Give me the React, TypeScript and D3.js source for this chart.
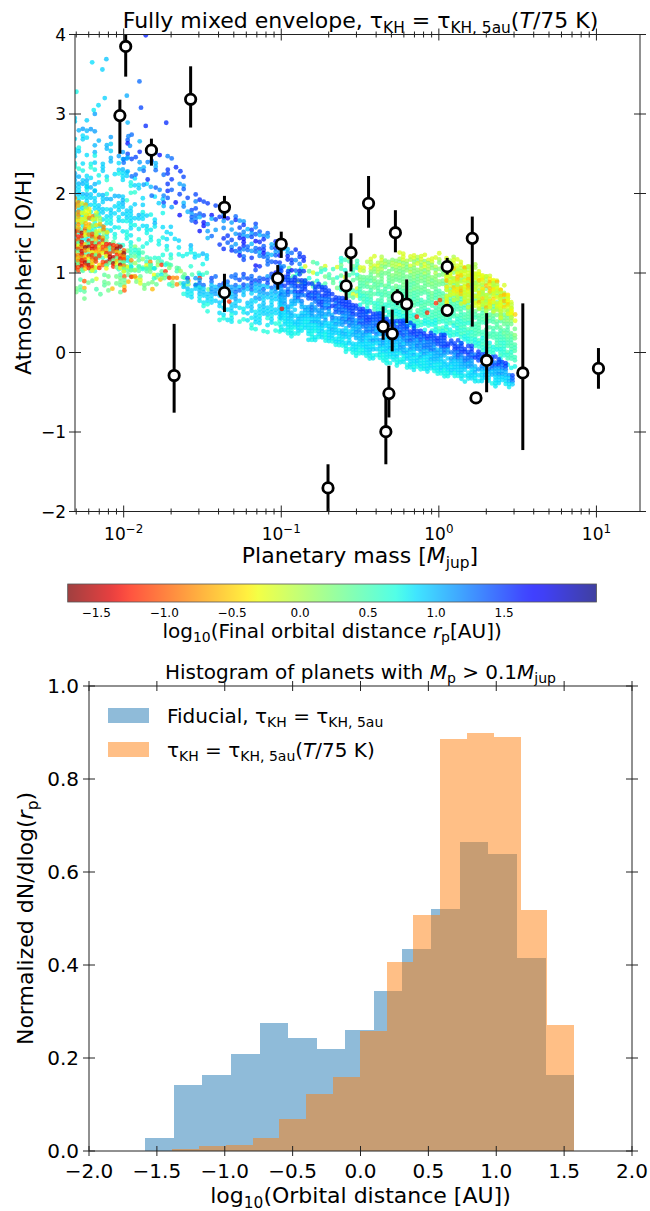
import React from 'react';
import * as d3 from 'd3';

// ---------------- Observed planets (top panel) ----------------
const obsMass = [0.0103, 0.00946, 0.015, 0.0266, 0.0436, 0.1, 0.277, 0.358, 0.53, 1.13, 1.63, 0.0209, 0.0436, 0.095, 0.258, 0.545, 0.625, 0.443, 0.506, 1.13, 2.01, 3.41, 10.3, 1.72, 0.482, 0.461, 0.198];
const obsOH = [3.85, 2.98, 2.545, 3.185, 1.827, 1.365, 1.256, 1.876, 1.507, 1.08, 1.436, -0.289, 0.753, 0.934, 0.838, 0.696, 0.61, 0.327, 0.236, 0.53, -0.1, -0.257, -0.2, -0.571, -0.517, -0.996, -1.703];
const obsErrLow = [0.38, 0.48, 0.195, 0.355, 0.137, 0.175, 0.236, 0.306, 0.247, 0.1, 1.11, 0.468, 0.243, 0.144, 0.178, 0.1, 0.24, 0.167, 0.222, 0, 0.4, 0.97, 0.256, 0, 0.3, 0.41, 0.3];
const obsErrHigh = [0.15, 0.2, 0.145, 0.415, 0.143, 0.155, 0.244, 0.344, 0.283, 0.11, 0.274, 0.649, 0.237, 0.166, 0.182, 0.1, 0.31, 0.253, 0.304, 0, 0.595, 0.875, 0.256, 0, 0.35, 0.49, 0.297];

// ---------------- Simulated population cloud, read as bands ----------------
// station: [log10 Mass, lower O/H, upper O/H, local dot density]; colours: log10 r_p values seen in the band
const upperFanStations = [[-2.31, 2.0, 3.3, 0.35], [-2.2, 1.95, 3.1, 0.3], [-2.05, 1.85, 2.8, 0.25], [-1.9, 1.75, 2.45, 0.2], [-1.75, 1.6, 2.1, 0.2]];
const upperFanColors = [0.65, 0.75, 0.85, 0.9, 1.0, 1.1];
const lowerFanStations = [[-2.31, 0.95, 2.3, 0.8], [-2.2, 0.98, 2.2, 0.6], [-2.05, 1.0, 2.05, 0.45], [-1.9, 1.0, 1.9, 0.35], [-1.75, 0.98, 1.75, 0.3], [-1.6, 0.92, 1.5, 0.3], [-1.45, 0.88, 1.25, 0.3]];
const lowerFanColors = [0.45, 0.55, 0.65, 0.7, 0.75, 0.8, 0.85, 0.9, 1.0];
const redCoreStations = [[-2.31, 0.98, 1.6, 0.9], [-2.2, 1.0, 1.55, 0.85], [-2.1, 1.02, 1.45, 0.8], [-1.98, 1.0, 1.3, 0.7]];
const redCoreColors = [-1.3, -1.0, -0.6, 0.3, -1.45, -0.8, -1.2, -0.3, 0.4, -1.1, -0.5, -1.55];
const yellowTopStations = [[-2.31, 1.55, 1.98, 0.8], [-2.2, 1.5, 1.82, 0.7], [-2.1, 1.42, 1.6, 0.5]];
const yellowTopColors = [-0.4, -0.2, -0.6, 0.1, -0.3, -0.8];
const mixClusterStations = [[-2.0, 0.95, 1.4, 0.6], [-1.85, 0.9, 1.3, 0.5], [-1.7, 0.85, 1.18, 0.45], [-1.55, 0.82, 1.05, 0.4], [-1.45, 0.8, 0.95, 0.35]];
const mixClusterColors = [0.3, 0.6, -0.3, 0.7, 0.2, -0.8, 0.5, 0.1, -1.2, 0.4, 0.8, 0.6];
const greenFringeStations = [[-2.3, 0.6, 0.98, 0.3], [-2.1, 0.72, 1.0, 0.4], [-1.85, 0.78, 1.0, 0.5], [-1.6, 0.78, 0.95, 0.5], [-1.4, 0.75, 0.88, 0.4], [-1.3, 0.72, 0.85, 0.3]];
const greenFringeColors = [0.3, 0.35, 0.25, -0.6, 0.4, -1.0, 0.3, -0.2, 0.5];
const blueStreamStations = [[-2.0, 2.2, 3.0, 0.2], [-1.85, 2.0, 2.75, 0.25], [-1.65, 1.65, 2.35, 0.3], [-1.45, 1.35, 2.0, 0.4], [-1.25, 1.1, 1.75, 0.5], [-1.05, 0.95, 1.5, 0.6], [-0.85, 0.9, 1.3, 0.6]];
const blueStreamColors = [1.2, 1.45, 1.35, 1.55, 1.3, 1.5, 1.1, 1.65, 1.0];
const mainLeftStations = [[-1.62, 0.7, 1.0, 0.4], [-1.45, 0.45, 1.0, 0.5], [-1.26, 0.3, 1.0, 0.6], [-1.0, 0.2, 1.1, 0.75]];
const mainLeftColors = [0.7, 0.8, 0.85, 0.9, 0.95, 1.1, 1.3, 1.45];
const mainRightStations = [[-1.0, 0.2, 1.1, 0.75], [-0.75, 0.12, 0.87, 0.85], [-0.5, -0.08, 0.6, 0.9], [-0.25, -0.18, 0.42, 0.9], [0.0, -0.3, 0.25, 0.9], [0.25, -0.4, 0.05, 0.9], [0.42, -0.44, -0.08, 0.9], [0.47, -0.44, -0.3, 0.8]];
const mainRightColors = [0.75, 0.8, 0.85, 0.9, 1.0, 1.1, 1.25, 1.4, 1.5, 1.45];
const greenSparseStations = [[-0.95, 0.85, 1.15, 0.35], [-0.7, 0.78, 1.2, 0.45], [-0.5, 0.6, 1.22, 0.55]];
const greenSparseColors = [0.55, 0.3, 0.65, 0.4, -0.2, 0.7, 0.5];
const greenRegionStations = [[-0.5, 0.55, 1.15, 0.7], [-0.35, 0.4, 1.25, 0.8], [-0.2, 0.3, 1.29, 0.85], [0.0, 0.2, 1.25, 0.85], [0.2, 0.05, 1.15, 0.85], [0.35, -0.1, 0.95, 0.85], [0.45, -0.2, 0.7, 0.85], [0.5, -0.2, 0.35, 0.6]];
const greenRegionColors = [0.75, 0.65, 0.55, 0.5, 0.45, 0.35, 0.3, 0.2, 0.0, -0.2];
const yellowPatchStations = [[0.05, 0.62, 1.1, 0.75], [0.2, 0.55, 1.08, 0.8], [0.33, 0.45, 1.0, 0.8], [0.43, 0.4, 0.82, 0.75], [0.49, 0.35, 0.55, 0.55]];
const yellowPatchColors = [-0.2, -0.3, -0.5, -0.6, -0.25, -0.1, -0.4, 0.0, -0.15];

// isolated simulated points [log10 M, O/H, log10 r_p]
const strayPoints = [
  [-2.2, 3.65, 0.85], [-2.11, 3.69, 0.95], [-2.135, 3.56, 0.9], [-2.3, 3.28, 0.75], [-2.12, 3.2, 0.9], [-2.16, 3.11, 0.85], [-2.19, 3.05, 0.8],
  [-1.9, 3.41, 1.3], [-1.98, 3.23, 1.05], [-1.89, 3.08, 1.45], [-1.86, 2.85, 1.55], [-1.73, 2.89, 1.55], [-1.668, 2.33, 1.55], [-1.72, 2.3, 1.5],
  [-1.86, 3.99, 1.6], [-1.97, 2.72, 1.2], [-1.96, 2.6, 1.15], [-1.62, 2.21, 1.45], [-1.64, 2.28, 1.5],
  [-1.33, 0.64, -1.2], [-0.996, 0.55, -1.3], [-0.14, 0.45, -1.25], [-0.074, 0.5, -1.2], [-0.018, 0.62, -1.2], [0.007, 0.66, -1.1],
];

// ---------------- Histogram (bottom panel) ----------------
const fiducialEdges = [-1.587, -1.376, -1.166, -0.955, -0.744, -0.534, -0.323, -0.112, 0.098, 0.309, 0.52, 0.73, 0.941, 1.152, 1.363, 1.574];
const fiducialValues = [0.027, 0.141, 0.163, 0.208, 0.275, 0.244, 0.22, 0.261, 0.345, 0.434, 0.52, 0.664, 0.639, 0.414, 0.163];
const tempEdges = [-1.388, -1.19, -0.993, -0.795, -0.598, -0.4, -0.203, -0.005, 0.192, 0.39, 0.587, 0.785, 0.982, 1.18, 1.377, 1.574];
const tempValues = [0.004, 0.01, 0.013, 0.029, 0.068, 0.122, 0.159, 0.259, 0.407, 0.508, 0.886, 0.898, 0.89, 0.518, 0.271];

// ---------------- ticks ----------------
const xMajorTicks = [0.01, 0.1, 1, 10];
const xMajorExp = ['−2', '−1', '0', '1'];
const xMinorTicks = [0.005, 0.006, 0.007, 0.008, 0.009, 0.02, 0.03, 0.04, 0.05, 0.06, 0.07, 0.08, 0.09, 0.2, 0.3, 0.4, 0.5, 0.6, 0.7, 0.8, 0.9, 2, 3, 4, 5, 6, 7, 8, 9];
const yTopTicks = [-2, -1, 0, 1, 2, 3, 4];
const cbTicks = [-1.5, -1.0, -0.5, 0.0, 0.5, 1.0, 1.5];
const histXTicks = [-2, -1.5, -1, -0.5, 0, 0.5, 1, 1.5, 2];
const histYTicks = [0, 0.2, 0.4, 0.6, 0.8, 1.0];

const FONT = "'DejaVu Sans', sans-serif";

// layout
const T = { left: 75, right: 640, top: 34.5, bottom: 511.5 };
const C = { left: 67.7, right: 596.5, top: 584, bottom: 602 };
const B = { left: 89, right: 632, top: 686, bottom: 1151 };

const xTop = d3.scaleLog().domain([0.00491, 18.9]).range([T.left, T.right]);
const yTop = d3.scaleLinear().domain([-2, 4]).range([T.bottom, T.top]);
const cbX = d3.scaleLinear().domain([-1.71, 2.18]).range([C.left, C.right]);
const xH = d3.scaleLinear().domain([-2, 2]).range([B.left, B.right]);
const yH = d3.scaleLinear().domain([0, 1]).range([B.bottom, B.top]);

// matplotlib jet
const jetR = d3.scaleLinear().domain([0, 0.35, 0.66, 0.89, 1]).range([0, 0, 1, 1, 0.5]).clamp(true);
const jetG = d3.scaleLinear().domain([0, 0.125, 0.375, 0.64, 0.91, 1]).range([0, 0, 1, 1, 0, 0]).clamp(true);
const jetB = d3.scaleLinear().domain([0, 0.11, 0.34, 0.65, 1]).range([0.5, 1, 1, 0, 0]).clamp(true);
const cNorm = d3.scaleLinear().domain([-1.71, 2.18]).range([1, 0]).clamp(true); // jet_r
function colorOf(c: number) {
  const t = cNorm(c);
  return d3.rgb(jetR(t) * 255, jetG(t) * 255, jetB(t) * 255).formatHex();
}

// deterministic dither index (picks which listed colour / whether a lattice site is shown)
function hash(a: number, b: number, s: number) {
  let h = Math.imul(a + 1, 0x9e3779b1) ^ Math.imul(b + 7 + s * 131, 0x85ebca6b);
  h ^= h >>> 13;
  h = Math.imul(h, 0xc2b2ae35);
  h ^= h >>> 16;
  return h >>> 0;
}

type P = { m: number; oh: number; c: number };
function bandPoints(st: number[][], pal: number[], spacing: number, mode: 'grad' | 'mix', seed: number, soft: number): P[] {
  const lm = st.map((s) => s[0]);
  const botS = d3.scaleLinear().domain(lm).range(st.map((s) => s[1]));
  const topS = d3.scaleLinear().domain(lm).range(st.map((s) => s[2]));
  const denS = d3.scaleLinear().domain(lm).range(st.map((s) => s[3]));
  const x0 = xTop(Math.pow(10, lm[0]));
  const x1 = xTop(Math.pow(10, lm[lm.length - 1]));
  const pts: P[] = [];
  const dyStep = spacing * 0.87;
  let col = 0;
  for (let px = x0; px <= x1 + 0.01; px += spacing, col++) {
    const m = xTop.invert(px);
    const logm = Math.log10(m);
    const bot = botS(logm), top = topS(logm), den = denS(logm);
    const pyTop = yTop(top), pyBot = yTop(bot);
    let row = 0;
    for (let py = pyTop + (col % 2 ? dyStep / 2 : 0); py <= pyBot; py += dyStep, row++) {
      const oh = yTop.invert(py);
      const frac = (oh - bot) / (top - bot || 1);
      const h = hash(col, row, seed);
      const edge = Math.min(py - pyTop, pyBot - py);
      const keep = den * Math.min(1, (edge + 1) / soft);
      if ((hash(row, col, seed + 50) % 1000) / 1000 >= keep) continue;
      let idx: number;
      if (mode === 'grad') idx = Math.floor(frac * pal.length) + ((h % 3) - 1);
      else idx = h % pal.length;
      idx = Math.max(0, Math.min(pal.length - 1, idx));
      pts.push({ m, oh, c: pal[idx] });
    }
  }
  return pts;
}

const cloud: P[] = [
  ...bandPoints(upperFanStations, upperFanColors, 4, 'grad', 1, 25),
  ...bandPoints(lowerFanStations, lowerFanColors, 4, 'grad', 2, 10),
  ...bandPoints(greenFringeStations, greenFringeColors, 4, 'mix', 3, 6),
  ...bandPoints(mixClusterStations, mixClusterColors, 3.8, 'mix', 10, 8),
  ...bandPoints(redCoreStations, redCoreColors, 3.5, 'mix', 4, 6),
  ...bandPoints(yellowTopStations, yellowTopColors, 3.6, 'mix', 11, 6),
  ...bandPoints(greenSparseStations, greenSparseColors, 4, 'mix', 5, 8),
  ...bandPoints(greenRegionStations, greenRegionColors, 3.6, 'grad', 6, 8),
  ...bandPoints(mainLeftStations, mainLeftColors, 4, 'grad', 12, 8),
  ...bandPoints(mainRightStations, mainRightColors, 3.4, 'grad', 7, 6),
  ...bandPoints(yellowPatchStations, yellowPatchColors, 3.6, 'mix', 8, 8),
  ...bandPoints(blueStreamStations, blueStreamColors, 4, 'mix', 9, 14),
  ...strayPoints.map((s) => ({ m: Math.pow(10, s[0]), oh: s[1], c: s[2] })),
];

type Seg = { t: string; k?: 'sub' | 'sup'; it?: boolean };
function MathText(props: { x: number; y: number; fs: number; segs: Seg[]; anchor?: string; rotate?: number; fill?: string }) {
  const { x, y, fs, segs, anchor = 'middle', rotate = 0, fill = '#000' } = props;
  let cur = 0;
  return (
    <text
      transform={`translate(${x},${y}) rotate(${rotate})`}
      fontFamily={FONT}
      fontSize={fs}
      textAnchor={anchor}
      fill={fill}
      style={{ whiteSpace: 'pre' }}
    >
      {segs.map((s, i) => {
        const target = s.k === 'sub' ? fs * 0.22 : s.k === 'sup' ? -fs * 0.42 : 0;
        const dy = target - cur;
        cur = target;
        return (
          <tspan key={i} dy={dy} fontSize={s.k ? fs * 0.7 : fs} fontStyle={s.it ? 'italic' : 'normal'}>
            {s.t}
          </tspan>
        );
      })}
    </text>
  );
}

const tauKH: Seg[] = [{ t: 'τ' }, { t: 'KH', k: 'sub' }, { t: ' = τ' }, { t: 'KH, 5au', k: 'sub' }];

export default function App() {
  const stroke = '#222';
  const gradStops = d3.range(0, 1.0001, 0.02);
  return (
    <svg width={650} height={1211} style={{ display: 'block', position: 'absolute', left: 0, top: 0, background: '#fff' }}>
      <defs>
        <linearGradient id="cbgrad" x1="0" x2="1" y1="0" y2="0">
          {gradStops.map((f, i) => (
            <stop key={i} offset={f} stopColor={colorOf(cbX.invert(C.left + f * (C.right - C.left)))} />
          ))}
        </linearGradient>
        <clipPath id="topclip">
          <rect x={T.left} y={T.top} width={T.right - T.left} height={T.bottom - T.top} />
        </clipPath>
      </defs>
      <rect x={0} y={0} width={650} height={1211} fill="#fff" />

      {/* ---------- top panel ---------- */}
      <MathText x={(T.left + T.right) / 2 + 3} y={28} fs={22} segs={[{ t: 'Fully mixed envelope, ' }, ...tauKH, { t: '(' }, { t: 'T', it: true }, { t: '/75 K)' }]} />
      <g clipPath="url(#topclip)">
        {cloud.map((p, i) => (
          <circle key={i} cx={xTop(p.m)} cy={yTop(p.oh)} r={2.4} fill={colorOf(p.c)} fillOpacity={0.75} />
        ))}
      </g>
      {/* error bars and observed planets */}
      {obsMass.map((m, i) => {
        const lo = Math.max(-2, obsOH[i] - obsErrLow[i]);
        const hi = Math.min(4, obsOH[i] + obsErrHigh[i]);
        return obsErrLow[i] + obsErrHigh[i] > 0 ? (
          <line key={'e' + i} x1={xTop(m)} x2={xTop(m)} y1={yTop(lo)} y2={yTop(hi)} stroke="#000" strokeWidth={3} />
        ) : null;
      })}
      {obsMass.map((m, i) => (
        <circle key={'o' + i} cx={xTop(m)} cy={yTop(obsOH[i])} r={5.2} fill="#fff" stroke="#000" strokeWidth={2.8} />
      ))}
      <rect x={T.left} y={T.top} width={T.right - T.left} height={T.bottom - T.top} fill="none" stroke={stroke} strokeWidth={1} />
      {xMajorTicks.map((v, i) => (
        <g key={'xm' + i}>
          <line x1={xTop(v)} x2={xTop(v)} y1={T.bottom - 6} y2={T.bottom + 6} stroke={stroke} />
          <line x1={xTop(v)} x2={xTop(v)} y1={T.top - 6} y2={T.top + 6} stroke={stroke} />
          <MathText x={xTop(v)} y={540} fs={17} segs={[{ t: '10' }, { t: xMajorExp[i], k: 'sup' }]} />
        </g>
      ))}
      {xMinorTicks.map((v, i) => (
        <g key={'xn' + i}>
          <line x1={xTop(v)} x2={xTop(v)} y1={T.bottom - 3} y2={T.bottom + 3} stroke={stroke} />
          <line x1={xTop(v)} x2={xTop(v)} y1={T.top - 3} y2={T.top + 3} stroke={stroke} />
        </g>
      ))}
      {yTopTicks.map((v, i) => (
        <g key={'yt' + i}>
          <line x1={T.left - 6} x2={T.left + 6} y1={yTop(v)} y2={yTop(v)} stroke={stroke} />
          <line x1={T.right - 6} x2={T.right + 6} y1={yTop(v)} y2={yTop(v)} stroke={stroke} />
          <text x={T.left - 9} y={yTop(v) + 6} textAnchor="end" fontFamily={FONT} fontSize={17}>
            {v < 0 ? '−' + Math.abs(v) : String(v)}
          </text>
        </g>
      ))}
      <MathText x={360} y={563} fs={22} segs={[{ t: 'Planetary mass [' }, { t: 'M', it: true }, { t: 'jup', k: 'sub' }, { t: ']' }]} />
      <MathText x={31} y={(T.top + T.bottom) / 2} fs={22} rotate={-90} segs={[{ t: 'Atmospheric [O/H]' }]} />

      {/* ---------- colorbar ---------- */}
      <rect x={C.left} y={C.top} width={C.right - C.left} height={C.bottom - C.top} fill="url(#cbgrad)" fillOpacity={0.75} />
      <rect x={C.left} y={C.top} width={C.right - C.left} height={C.bottom - C.top} fill="none" stroke="#555" strokeWidth={0.8} />
      {cbTicks.map((v, i) => (
        <text key={'cb' + i} x={cbX(v)} y={617} textAnchor="middle" fontFamily={FONT} fontSize={12}>
          {(v < 0 ? '−' : '') + Math.abs(v).toFixed(1)}
        </text>
      ))}
      <MathText x={(C.left + C.right) / 2} y={638} fs={20} segs={[{ t: 'log' }, { t: '10', k: 'sub' }, { t: '(Final orbital distance ' }, { t: 'r', it: true }, { t: 'p', k: 'sub' }, { t: '[AU])' }]} />

      {/* ---------- bottom panel ---------- */}
      <MathText x={(B.left + B.right) / 2} y={679} fs={20} segs={[{ t: 'Histogram of planets with ' }, { t: 'M', it: true }, { t: 'p', k: 'sub' }, { t: ' > 0.1' }, { t: 'M', it: true }, { t: 'jup', k: 'sub' }]} />
      {fiducialValues.map((v, i) => (
        <rect key={'hb' + i} x={xH(fiducialEdges[i])} y={yH(v)} width={xH(fiducialEdges[i + 1]) - xH(fiducialEdges[i])} height={yH(0) - yH(v)} fill="#1f77b4" fillOpacity={0.5} shapeRendering="crispEdges" />
      ))}
      {tempValues.map((v, i) => (
        <rect key={'ho' + i} x={xH(tempEdges[i])} y={yH(v)} width={xH(tempEdges[i + 1]) - xH(tempEdges[i])} height={yH(0) - yH(v)} fill="#ff7f0e" fillOpacity={0.5} shapeRendering="crispEdges" />
      ))}
      <rect x={B.left} y={B.top} width={B.right - B.left} height={B.bottom - B.top} fill="none" stroke={stroke} strokeWidth={1} />
      {histXTicks.map((v, i) => (
        <g key={'hx' + i}>
          <line x1={xH(v)} x2={xH(v)} y1={B.bottom - 5} y2={B.bottom + 5} stroke={stroke} />
          <line x1={xH(v)} x2={xH(v)} y1={B.top - 5} y2={B.top + 5} stroke={stroke} />
          <text x={xH(v)} y={1178} textAnchor="middle" fontFamily={FONT} fontSize={20}>
            {(v < 0 ? '−' : '') + Math.abs(v).toFixed(1)}
          </text>
        </g>
      ))}
      {histYTicks.map((v, i) => (
        <g key={'hy' + i}>
          <line x1={B.left - 6} x2={B.left + 6} y1={yH(v)} y2={yH(v)} stroke={stroke} />
          <line x1={B.right - 6} x2={B.right + 6} y1={yH(v)} y2={yH(v)} stroke={stroke} />
          <text x={B.left - 10} y={yH(v) + 7} textAnchor="end" fontFamily={FONT} fontSize={20}>
            {v.toFixed(1)}
          </text>
        </g>
      ))}
      {/* legend */}
      <rect x={108} y={708} width={41} height={15} fill="#1f77b4" fillOpacity={0.5} />
      <MathText x={167} y={723} fs={20} anchor="start" segs={[{ t: 'Fiducial, ' }, ...tauKH]} />
      <rect x={108} y={742} width={41} height={15} fill="#ff7f0e" fillOpacity={0.5} />
      <MathText x={167} y={757} fs={20} anchor="start" segs={[...tauKH, { t: '(' }, { t: 'T', it: true }, { t: '/75 K)' }]} />
      <MathText x={(B.left + B.right) / 2} y={1203} fs={22} segs={[{ t: 'log' }, { t: '10', k: 'sub' }, { t: '(Orbital distance [AU])' }]} />
      <MathText x={33} y={(B.top + B.bottom) / 2} fs={22} rotate={-90} segs={[{ t: 'Normalized dN/dlog(' }, { t: 'r', it: true }, { t: 'p', k: 'sub' }, { t: ')' }]} />
    </svg>
  );
}
